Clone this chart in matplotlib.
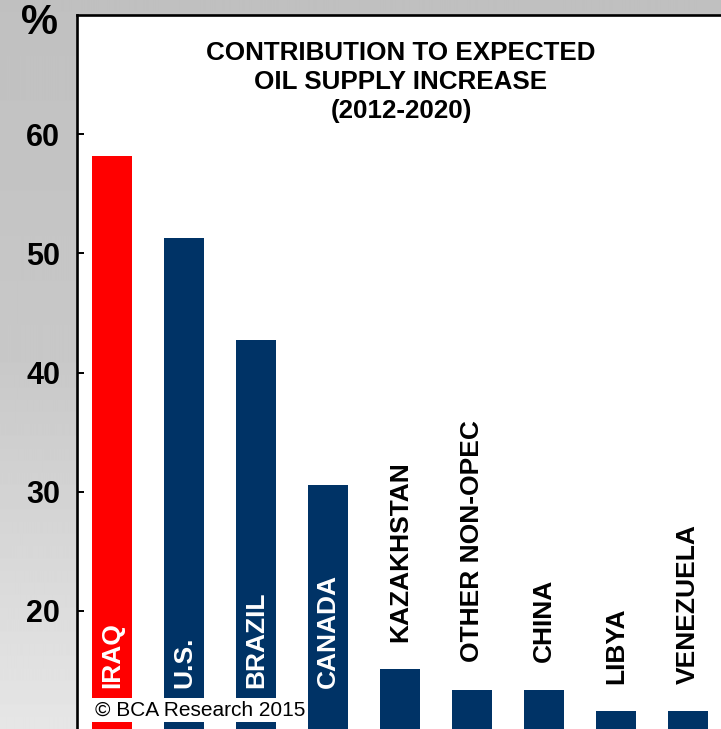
import numpy as np
import matplotlib
matplotlib.use("Agg")
import matplotlib.pyplot as plt

plt.rcParams["font.family"] = ["Liberation Sans", "DejaVu Sans"]

# Data
countries = ["IRAQ", "U.S.", "BRAZIL", "CANADA", "KAZAKHSTAN",
             "OTHER NON-OPEC", "CHINA", "LIBYA", "VENEZUELA"]
contribution = [58.2, 51.3, 42.7, 30.6, 15.1, 13.4, 13.4, 11.6, 11.6]
highlight = ["IRAQ"]
yticks = [20, 30, 40, 50, 60]

RED = "#ff0000"
NAVY = "#003366"

W, H = 721, 729
fig = plt.figure(figsize=(W / 100, H / 100), dpi=100)

# Grey vertical gradient behind everything
bg = fig.add_axes([0, 0, 1, 1], zorder=-10)
rows = np.arange(H)
shade = np.interp(rows, [0, 360, H - 1], [192, 200, 230]) / 255.0
img = np.repeat(shade[:, None], 4, axis=1)
bg.imshow(img, cmap="gray", vmin=0, vmax=1, aspect="auto",
          extent=[0, 1, 0, 1], origin="upper")
bg.set_axis_off()

ax = fig.add_axes([77 / W, 0.0, 1 - 77 / W, 1 - 15 / H])
ax.set_facecolor("white")

x = np.arange(len(countries))
colors = [RED if c in highlight else NAVY for c in countries]
ax.bar(x, contribution, width=0.556, color=colors, zorder=2)

ax.set_xlim(-0.486, 8.458)
ax.set_ylim(10.1, 70)

for s in ["right", "bottom"]:
    ax.spines[s].set_visible(False)
for s in ["left", "top"]:
    ax.spines[s].set_linewidth(1.9)
    ax.spines[s].set_color("black")

ax.set_xticks([])
ax.set_yticks(yticks)
ax.set_yticklabels([str(t) for t in yticks], fontsize=22, fontweight="bold")
ax.tick_params(axis="y", direction="in", length=5, width=1.4, pad=12)

# Category labels: inside tall bars (white), above short bars (black)
for xi, name, v in zip(x, countries, contribution):
    if v > 25:
        ax.text(xi, 13.55, name, rotation=90, ha="center", va="bottom",
                color="white", fontsize=19, fontweight="bold", zorder=3)
    else:
        ax.text(xi, max(v + 2.3, 13.4), name, rotation=90, ha="center",
                va="bottom", color="black", fontsize=19, fontweight="bold",
                zorder=3)

fig.text(401 / W, 1 - 41 / H,
         "CONTRIBUTION TO EXPECTED\nOIL SUPPLY INCREASE\n(2012-2020)",
         ha="center", va="top", fontsize=18.7, fontweight="bold",
         linespacing=1.27)

fig.text(40 / W, 1 - 3 / H, "%", ha="center", va="top",
         fontsize=30, fontweight="bold")

fig.text(95 / W, 1 - 710 / H, "\u00a9 BCA Research 2015", ha="left",
         va="center", fontsize=15, color="black", zorder=5,
         bbox=dict(facecolor="white", edgecolor="none", pad=2.0))

fig.savefig("out.png", dpi=100)
